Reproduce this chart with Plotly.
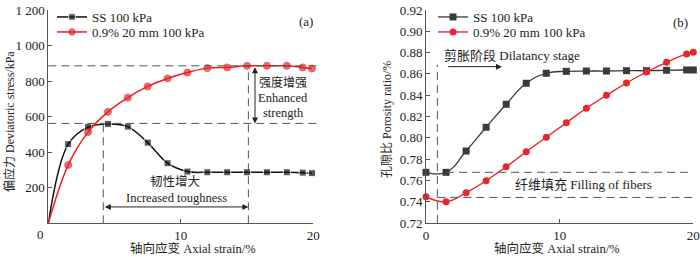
import plotly.graph_objects as go

# ---------------- data ----------------
# (a) deviatoric stress vs axial strain
strain_a = [0, 1.5, 3, 4.5, 6, 7.5, 9, 10.5, 12, 13.5, 15, 16.5, 18, 19.2, 19.9]
stress_ss = [0, 445, 541, 559, 544, 454, 338, 291, 287, 287, 287, 287, 287, 285, 282]
stress_fib = [0, 328, 513, 627, 707, 770, 815, 848, 873, 877, 886, 886, 886, 877, 871]

# (b) porosity ratio vs axial strain
strain_b = [0, 1.5, 3, 4.5, 6, 7.5, 9, 10.5, 12, 13.5, 15, 16.5, 18, 19.5, 20]
por_ss = [0.7676, 0.7676, 0.7876, 0.8099, 0.8315, 0.8512, 0.8606, 0.8624, 0.8627,
          0.8627, 0.8630, 0.8630, 0.8634, 0.8637, 0.8637]
por_fib = [0.7447, 0.7400, 0.7485, 0.7597, 0.7729, 0.7869, 0.8005, 0.8142, 0.8277,
           0.8399, 0.8515, 0.8618, 0.8709, 0.8787, 0.8803]

names = ["SS 100 kPa", "0.9% 20 mm 100 kPa"]

# annotation levels
a_peak_fib = 886
a_peak_ss = 562
a_x_left = 4.15
a_x_right = 15.1
b_x_vert = 0.85
b_upper = 0.7676
b_lower = 0.7440

FONT = "Times New Roman, Liberation Serif, Noto Sans CJK SC, serif"
BLACK = "#111111"
RED = "#f01818"
RED_M = "#e8262d"
GRAY = "#3a3a3a"
DASH = "#555555"

fig = go.Figure()

msize_a = [0] + [7] * (len(strain_a) - 1)
fig.add_trace(go.Scatter(x=strain_a, y=stress_ss, name=names[0], mode="lines+markers",
                         line=dict(color=BLACK, width=1.5, shape="spline", smoothing=1.0),
                         marker=dict(symbol="square", size=msize_a, color=BLACK),
                         xaxis="x", yaxis="y", cliponaxis=False, legend="legend"))
fig.add_trace(go.Scatter(x=strain_a, y=stress_fib, name=names[1], mode="lines+markers",
                         line=dict(color=RED, width=1.5, shape="spline", smoothing=1.0),
                         marker=dict(symbol="circle", size=msize_a, color=RED_M),
                         xaxis="x", yaxis="y", cliponaxis=False, legend="legend2"))
fig.add_trace(go.Scatter(x=strain_b, y=por_ss, name=names[0], mode="lines+markers",
                         line=dict(color=GRAY, width=1.3, shape="spline", smoothing=1.3),
                         marker=dict(symbol="square", size=7, color=GRAY),
                         xaxis="x2", yaxis="y2", cliponaxis=False, legend="legend3"))
fig.add_trace(go.Scatter(x=strain_b, y=por_fib, name=names[1], mode="lines+markers",
                         line=dict(color=RED, width=1.3, shape="spline", smoothing=1.3),
                         marker=dict(symbol="circle", size=7, color=RED_M),
                         xaxis="x2", yaxis="y2", cliponaxis=False, legend="legend4"))

W, H = 700, 257
def px(v):
    return v / W
def py(v):
    return 1 - v / H

axis_common = dict(showline=True, linecolor="#555555", linewidth=1, ticks="inside",
                   ticklen=4, tickcolor="#555555", showgrid=False, zeroline=False,
                   automargin=False,
                   tickfont=dict(family=FONT, size=13, color="#222222"))

def leg(x, ytop):
    return dict(x=px(x), y=py(ytop), xanchor="left", yanchor="top",
                bgcolor="rgba(0,0,0,0)", font=dict(family=FONT, size=13, color="#222222"),
                itemwidth=30, tracegroupgap=0)

fig.update_layout(
    template="none",
    width=W, height=H, margin=dict(l=0, r=0, t=0, b=0, pad=0, autoexpand=False),
    paper_bgcolor="white", plot_bgcolor="white",
    font=dict(family=FONT, size=12, color="#222222"),
    xaxis=dict(domain=[px(48.3), px(313.3)], range=[0, 20], tickvals=[10, 20],
               anchor="y", **axis_common),
    yaxis=dict(domain=[py(223.3), py(10)], range=[0, 1200],
               tickvals=[200, 400, 600, 800, 1000, 1200],
               ticktext=["200", "400", "600", "800", "1 000", "1 200"],
               anchor="x", **axis_common),
    xaxis2=dict(domain=[px(426), px(693.3)], range=[0, 20], tickvals=[0, 10, 20],
                anchor="y2", **axis_common),
    yaxis2=dict(domain=[py(223), py(10)], range=[0.72, 0.92],
                tickvals=[0.72, 0.74, 0.76, 0.78, 0.80, 0.82, 0.84, 0.86, 0.88, 0.90, 0.92],
                tickformat=".2f", anchor="x2", **axis_common),
    legend=leg(52, 2),
    legend2=leg(52, 17),
    legend3=leg(433, 2),
    legend4=leg(433, 17),
    showlegend=True,
)

dash_line = dict(color=DASH, width=1, dash="8px,5px")
shapes = [
    # (a)
    dict(type="line", xref="paper", yref="y", x0=px(48.3), x1=px(318), y0=a_peak_fib, y1=a_peak_fib, line=dash_line),
    dict(type="line", xref="paper", yref="y", x0=px(48.3), x1=px(318), y0=a_peak_ss, y1=a_peak_ss, line=dash_line),
    dict(type="line", xref="x", yref="y", x0=a_x_left, x1=a_x_left, y0=0, y1=a_peak_ss, line=dash_line),
    dict(type="line", xref="x", yref="y", x0=a_x_right, x1=a_x_right, y0=0, y1=a_peak_fib, line=dash_line),
    # (b)
    dict(type="line", xref="x2", yref="y2", x0=b_x_vert, x1=b_x_vert, y0=0.72, y1=0.8685, line=dash_line),
    dict(type="line", xref="x2", yref="y2", x0=1.5, x1=20, y0=b_upper, y1=b_upper, line=dash_line),
    dict(type="line", xref="x2", yref="y2", x0=b_x_vert, x1=20, y0=b_lower, y1=b_lower, line=dash_line),
]
fig.update_layout(shapes=shapes)

ann = []
def text(x, y, t, xref="x", yref="y", xanchor="center", size=12, **kw):
    ann.append(dict(x=x, y=y, xref=xref, yref=yref, text=t, showarrow=False,
                    xanchor=xanchor, yanchor="middle",
                    font=dict(family=FONT, size=size, color="#222222"), **kw))

# panel (a)
text(19.45, 1134, "(a)", size=13)
text(px(283), py(82), "强度增强", xref="paper", yref="paper", size=12)
text(px(283), py(98), "Enhanced", xref="paper", yref="paper", size=12.5)
text(px(283), py(113), "strength", xref="paper", yref="paper", size=12.5)
text(px(175), py(181), "韧性增大", xref="paper", yref="paper", size=12.5)
text(px(176), py(198), "Increased toughness", xref="paper", yref="paper", size=12.5)
text(px(40), py(234), "0", xref="paper", yref="paper", size=13)
# arrows (a)
ann.append(dict(x=a_x_right, y=92, ax=a_x_left, ay=92, xref="x", yref="y", axref="x", ayref="y",
                text="", showarrow=True, arrowhead=2, startarrowhead=2, arrowside="end+start",
                arrowsize=1.2, arrowwidth=1, arrowcolor="#222222", standoff=0, startstandoff=0))
ann.append(dict(x=15.6, y=a_peak_ss, ax=15.6, ay=a_peak_fib, xref="x", yref="y", axref="x", ayref="y",
                text="", showarrow=True, arrowhead=2, startarrowhead=2, arrowside="end+start",
                arrowsize=1.2, arrowwidth=1, arrowcolor="#222222", standoff=0, startstandoff=0))

# panel (b)
text(19.05, 0.9087, "(b)", xref="x2", yref="y2", size=13)
text(1.18, 0.8777, "剪胀阶段 Dilatancy stage", xref="x2", yref="y2", xanchor="left", size=13)
text(11.8, 0.7563, "纤维填充 Filling of fibers", xref="x2", yref="y2", size=13)
ann.append(dict(x=5.68, y=0.8668, ax=1.55, ay=0.8668, xref="x2", yref="y2", axref="x2", ayref="y2",
                text="", showarrow=True, arrowhead=2, arrowsize=1.2, arrowwidth=1,
                arrowcolor="#222222", standoff=0))

# axis titles
text(px(9), py(122), "偏应力 Deviatoric stress/kPa", xref="paper", yref="paper", textangle=-90, size=12)
text(px(387), py(120), "孔隙比 Porosity ratio/%", xref="paper", yref="paper", textangle=-90, size=12)
text(px(193), py(248), "轴向应变 Axial strain/%", xref="paper", yref="paper", size=12.5)
text(px(557), py(248), "轴向应变 Axial strain/%", xref="paper", yref="paper", size=12.5)

fig.update_layout(annotations=ann)
fig.write_html("out.html", config={"displayModeBar": False},
               post_script="document.body.style.margin='0';document.body.style.overflow='hidden';")
